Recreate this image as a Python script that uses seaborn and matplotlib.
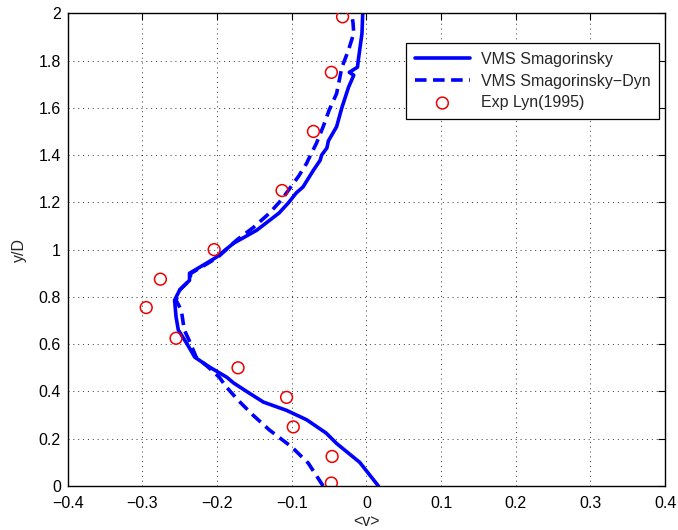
import matplotlib
matplotlib.use("Agg")
import matplotlib.pyplot as plt
import seaborn as sns
import pandas as pd

# ---- data ----
smag_y = [0.0, 0.10, 0.18, 0.224, 0.28, 0.32, 0.355, 0.393, 0.436, 0.46, 0.503,
          0.545, 0.605, 0.66, 0.715, 0.786, 0.83, 0.87, 0.90, 0.943, 0.968, 1.027,
          1.082, 1.155, 1.20, 1.24, 1.265, 1.336, 1.378, 1.40, 1.43, 1.46, 1.52,
          1.60, 1.687, 1.738, 1.75, 1.772, 1.80, 1.915, 2.0]
smag_x = [0.016, -0.009, -0.040, -0.054, -0.080, -0.107, -0.138, -0.157, -0.178, -0.187, -0.210,
          -0.230, -0.241, -0.252, -0.255, -0.257, -0.250, -0.237, -0.237, -0.214, -0.201, -0.178,
          -0.147, -0.117, -0.104, -0.094, -0.085, -0.071, -0.062, -0.060, -0.053, -0.051, -0.040,
          -0.033, -0.024, -0.017, -0.023, -0.012, -0.011, -0.006, -0.005]

dyn_y = [0.0, 0.097, 0.165, 0.237, 0.30, 0.36, 0.42, 0.46, 0.503, 0.545, 0.575,
         0.62, 0.66, 0.744, 0.786, 0.83, 0.87, 0.90, 0.943, 0.968, 1.04, 1.095,
         1.154, 1.21, 1.24, 1.28, 1.31, 1.366, 1.38, 1.45, 1.52, 1.59, 1.66,
         1.77, 1.845, 1.915, 1.96, 2.0]
dyn_x = [-0.058, -0.078, -0.100, -0.130, -0.152, -0.171, -0.188, -0.197, -0.212, -0.228, -0.232,
         -0.238, -0.244, -0.248, -0.255, -0.250, -0.237, -0.235, -0.212, -0.199, -0.174, -0.151,
         -0.130, -0.114, -0.107, -0.098, -0.091, -0.080, -0.078, -0.067, -0.058, -0.050, -0.040,
         -0.033, -0.024, -0.017, -0.018, -0.020]

exp_x = [-0.032, -0.047, -0.071, -0.113, -0.204, -0.276, -0.295, -0.255, -0.172,
         -0.107, -0.098, -0.046, -0.047]
exp_y = [1.985, 1.75, 1.50, 1.25, 1.0, 0.875, 0.755, 0.625, 0.50,
         0.375, 0.25, 0.125, 0.0125]

x_ticks = [-0.4, -0.3, -0.2, -0.1, 0.0, 0.1, 0.2, 0.3, 0.4]
x_labels = ["\u22120.4", "\u22120.3", "\u22120.2", "\u22120.1", "0", "0.1", "0.2", "0.3", "0.4"]
y_ticks = [0, 0.2, 0.4, 0.6, 0.8, 1.0, 1.2, 1.4, 1.6, 1.8, 2.0]
y_labels = ["0", "0.2", "0.4", "0.6", "0.8", "1", "1.2", "1.4", "1.6", "1.8", "2"]

labels = ["VMS Smagorinsky", "VMS Smagorinsky\u2212Dyn", "Exp Lyn(1995)"]

# ---- plot ----
sns.set_style("white")
plt.rcParams['font.family'] = ['Liberation Sans', 'DejaVu Sans']
FS = 11.5

fig = plt.figure(figsize=(6.78, 5.30), dpi=100)
ax = fig.add_axes([0.100, 0.083, 0.881, 0.892])

df_s = pd.DataFrame({"x": smag_x, "y": smag_y})
df_d = pd.DataFrame({"x": dyn_x, "y": dyn_y})
df_e = pd.DataFrame({"x": exp_x, "y": exp_y})

sns.lineplot(data=df_s, x="x", y="y", sort=False, estimator=None, ax=ax,
             color="#0000ff", linewidth=2.6, label=labels[0])
sns.lineplot(data=df_d, x="x", y="y", sort=False, estimator=None, ax=ax,
             color="#0000ff", linewidth=2.6, dashes=False, label=labels[1])
ax.lines[1].set_dashes([3.2, 1.8])
sns.scatterplot(data=df_e, x="x", y="y", ax=ax, marker="o", s=72,
                facecolors="none", edgecolor="#ee0000", linewidth=1.1,
                label=labels[2], zorder=5)

ax.set_xlim(-0.4, 0.4)
ax.set_ylim(0, 2)
ax.set_xticks(x_ticks)
ax.set_xticklabels(x_labels, fontsize=FS)
ax.set_yticks(y_ticks)
ax.set_yticklabels(y_labels, fontsize=FS)
ax.set_xlabel("<v>", fontsize=FS, labelpad=2)
ax.set_ylabel("y/D", fontsize=FS, labelpad=8)

ax.grid(True, color="black", linestyle=(0, (1, 4)), linewidth=0.7, alpha=0.8)
ax.tick_params(direction="in", length=5, width=0.8, top=True, right=True,
               colors="black", pad=5)
ax.tick_params(axis="x", pad=7)
for s in ax.spines.values():
    s.set_visible(True)
    s.set_color("black")
    s.set_linewidth(1.0)

leg = ax.legend(loc="upper right", bbox_to_anchor=(0.990, 0.937), borderaxespad=0,
                fontsize=FS, frameon=True, fancybox=False, edgecolor="black",
                handlelength=3.4, borderpad=0.55, labelspacing=0.42, handletextpad=0.7)
leg.get_frame().set_linewidth(0.9)
leg.get_frame().set_alpha(1)
if hasattr(leg, "legend_handles"):
    leg.legend_handles[1].set_dashes([3.2, 1.8])

fig.savefig("out.png", dpi=100)
